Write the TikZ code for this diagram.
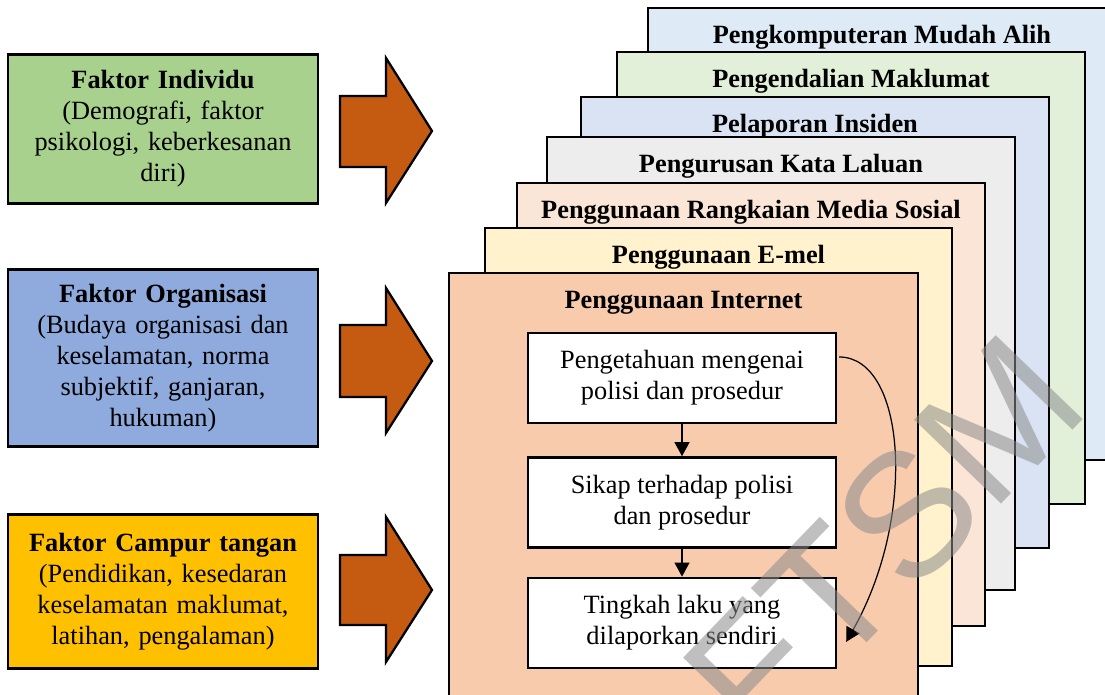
\documentclass[tikz,border=0pt]{standalone}
\usepackage{fontspec}
\setmainfont{Liberation Serif}
\setsansfont{Liberation Sans}
\usetikzlibrary{arrows.meta}
\usetikzlibrary{arrows.meta, positioning}
\usetikzlibrary{calc}
\usepackage{xcolor}

\definecolor{indgreen}{HTML}{A9D18E}
\definecolor{orgblue}{HTML}{8FAADC}
\definecolor{campuryellow}{HTML}{FFC000}
\definecolor{arroworange}{HTML}{C55A11}
\definecolor{mobileblue}{HTML}{DEEBF7}
\definecolor{infogreen}{HTML}{E2F0D9}
\definecolor{incidentblue}{HTML}{DAE3F3}
\definecolor{passgrey}{HTML}{EDEDED}
\definecolor{socialpeach}{HTML}{FBE5D6}
\definecolor{emailcream}{HTML}{FFF2CC}
\definecolor{netsalmon}{HTML}{F8CBAD}

\begin{document}
\begin{tikzpicture}[
    x=0.02cm, y=-0.02cm,
    >={Triangle[width=8.5pt, length=8pt]},
    factor/.style={rectangle, draw, line width=1.4pt, minimum width=6.2cm, text width=5.9cm, align=center, font=\fontsize{15}{17.6}\selectfont},
    panel/.style={draw, line width=1.4pt},
    title/.style={anchor=base, font=\fontsize{15}{17.6}\selectfont\bfseries},
    stage/.style={rectangle, draw, fill=white, line width=1.4pt, minimum width=6.16cm, minimum height=1.8cm, align=center, font=\fontsize{15}{17.6}\selectfont},
    bigarrow/.style={draw, line width=1.3pt, fill=arroworange}
]

\clip (0,0) rectangle (1105,695);

% Factor boxes
\node[factor, fill=indgreen, minimum height=2.98cm] (F1) at (163,129)
    {\textbf{Faktor Individu}\\(Demografi, faktor\\psikologi, keberkesanan\\diri)};
\node[factor, fill=orgblue, minimum height=3.54cm] (F2) at (163,358)
    {\textbf{Faktor Organisasi}\\(Budaya organisasi dan\\keselamatan, norma\\subjektif, ganjaran,\\hukuman)};
\node[factor, fill=campuryellow, minimum height=3.08cm] (F3) at (163,591.5)
    {\textbf{Faktor Campur tangan}\\(Pendidikan, kesedaran\\keselamatan maklumat,\\latihan, pengalaman)};

% Block arrows
\draw[bigarrow] (340,96) -- (386,96) -- (386,58) -- (432,131) -- (386,203) -- (386,167) -- (340,167) -- cycle;
\draw[bigarrow] (340,325) -- (386,325) -- (386,288) -- (432,361) -- (386,433) -- (386,397) -- (340,397) -- cycle;
\draw[bigarrow] (340,555) -- (386,555) -- (386,517) -- (432,590) -- (386,662) -- (386,625) -- (340,625) -- cycle;

% Stacked panels, back to front
\draw[panel, fill=mobileblue] (648,8) rectangle (1116,460);
\node[title] (T7) at (882,44) {Pengkomputeran Mudah Alih};

\draw[panel, fill=infogreen] (617,52) rectangle (1085,504);
\node[title] (T6) at (851,88) {Pengendalian Maklumat};

\draw[panel, fill=incidentblue] (581,97) rectangle (1049,548);
\node[title] (T5) at (815,133) {Pelaporan Insiden};

\draw[panel, fill=passgrey] (547,137) rectangle (1015,590);
\node[title] (T4) at (781,173) {Pengurusan Kata Laluan};

\draw[panel, fill=socialpeach] (517,183) rectangle (985,626);
\node[title] (T3) at (751,219) {Penggunaan Rangkaian Media Sosial};

\draw[panel, fill=emailcream] (485,228) rectangle (952,666);
\node[title] (T2) at (718.5,264) {Penggunaan E-mel};

\draw[panel, fill=netsalmon] (449,273) rectangle (918,720);
\node[title] (T1) at (683.5,309) {Penggunaan Internet};

% Stages inside Penggunaan Internet
\node[stage] (A) at (682,378) {Pengetahuan mengenai\\polisi dan prosedur};
\node[stage, below=0.64cm of A] (B) {Sikap terhadap polisi\\dan prosedur};
\node[stage, below=0.56cm of B] (C) {Tingkah laku yang\\dilaporkan sendiri};

\draw[->, line width=0.7pt] (A) -- (B);
\draw[->, line width=0.7pt] (B) -- (C);
\draw[->, line width=0.7pt] ($(A.east)+(2,-21)$) .. controls (905,357) and (918,515) .. ($(C.east)+(9,19)$);

% Watermark
\node[rotate=46, text=black!45, opacity=0.55, font=\sffamily\fontsize{100}{100}\selectfont] (WM) at (836,588) {OFTSM};

\end{tikzpicture}
\end{document}
